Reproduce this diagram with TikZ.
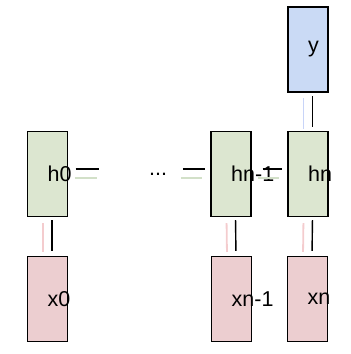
\documentclass[tikz,border=0pt]{standalone}
\usepackage{fontspec}
\setmainfont{Liberation Sans}
\definecolor{rnngreen}{RGB}{220,230,208}
\definecolor{rnnpink}{RGB}{236,206,208}
\definecolor{rnnblue}{RGB}{202,218,245}
\definecolor{ghostgreen}{RGB}{210,224,200}
\definecolor{ghostpink}{RGB}{244,204,206}
\definecolor{ghostblue}{RGB}{200,212,248}
\usetikzlibrary{positioning}

\begin{document}
\begin{tikzpicture}[x=1pt, y=-1pt,
  cell/.style={draw=black, line width=1.1pt, minimum width=40pt, minimum height=85pt, inner sep=0pt},
  lbl/.style={anchor=west, inner sep=0pt, font=\fontsize{21.5}{25}\selectfont},
  wire/.style={draw=black, line width=1.4pt},
  ghost/.style={line width=1.8pt}]
  \useasboundingbox (0,0) rectangle (351,354);

  % hidden states
  \node[cell, fill=rnngreen] (h0) at (47.5,174) {};
  \node[cell, fill=rnngreen] (hn1) at (231,174) {};
  \node[cell, fill=rnngreen] (hn) at (308,174) {};

  % inputs
  \node[cell, fill=rnnpink] (x0) at (47.5,299) {};
  \node[cell, fill=rnnpink] (xn1) at (231.5,299) {};
  \node[cell, fill=rnnpink] (xn) at (307.5,299) {};

  % output
  \node[cell, fill=rnnblue] (y) at (308,49.5) {};

  % labels
  \node[lbl] (h0txt) at (h0.center) {h0};
  \node[lbl] (hn1txt) at (hn1.center) {hn-1};
  \node[lbl] (hntxt) at (hn.center) {hn};
  \node[lbl] (x0txt) at (x0.center) {x0};
  \node[lbl] (xn1txt) at (xn1.center) {xn-1};
  \node[lbl] (xntxt) at (xn.center) {xn};
  \node[lbl] (ytxt) at (y.center) {y};
  \node[lbl] (dots) at (149,174) {\raisebox{-3pt}{...}};

  % recurrence
  \draw[ghost, ghostgreen, shorten <=6.5pt, shorten >=52pt] ([yshift=-4pt]h0.east) -- ([yshift=-4pt]dots.west);
  \draw[wire, shorten <=7.5pt, shorten >=50pt] ([yshift=5pt]h0.east) -- ([yshift=5pt]dots.west);
  \draw[ghost, ghostgreen, shorten <=13.5pt, shorten >=8pt] ([yshift=-4pt]dots.east) -- ([yshift=-4pt]hn1.west);
  \draw[wire, shorten <=15.5pt, shorten >=5pt] ([yshift=5pt]dots.east) -- ([yshift=5pt]hn1.west);
  \draw[ghost, ghostgreen, shorten <=6pt, shorten >=8pt] ([yshift=-4pt]hn1.east) -- ([yshift=-4pt]hn.west);
  \draw[wire, shorten <=11pt, shorten >=5pt] ([yshift=5pt]hn1.east) -- ([yshift=5pt]hn.west);

  % inputs to states
  \foreach \src/\dst in {x0/h0, xn1/hn1, xn/hn} {
    \draw[ghost, ghostpink, shorten <=4pt, shorten >=6pt] ([xshift=-4.5pt]\src.north) -- ([xshift=-4.5pt]\dst.south);
    \draw[wire, shorten <=5pt, shorten >=3pt] ([xshift=4.5pt]\src.north) -- ([xshift=4.5pt]\dst.south);
  }

  % state to output
  \draw[ghost, ghostblue, shorten <=2pt, shorten >=5pt] ([xshift=-4.5pt]hn.north) -- ([xshift=-4.5pt]y.south);
  \draw[wire, shorten <=4pt, shorten >=3pt] ([xshift=4.5pt]hn.north) -- ([xshift=4.5pt]y.south);
\end{tikzpicture}
\end{document}
